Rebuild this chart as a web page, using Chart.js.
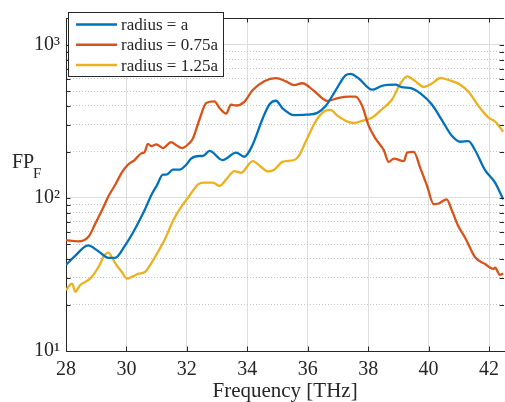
<!DOCTYPE html>
<html>
<head>
<meta charset="utf-8">
<script src="https://cdn.jsdelivr.net/npm/chart.js@4.4.0/dist/chart.umd.min.js"></script>
<style>
html, body { margin: 0; padding: 0; overflow: hidden; background: #fff; }
canvas { display: block; }
</style>
</head>
<body>
<canvas id="fpChart" width="506" height="402"></canvas>
<script>
var seriesNames = ['radius = a', 'radius = 0.75a', 'radius = 1.25a'];
var seriesColors = ['#0072BD', '#D95319', '#EDB120'];

// radius = a
var freqA = [28.0, 28.31, 28.73, 29.06, 29.41, 29.62, 29.95, 30.27, 30.6, 30.83, 31.0, 31.21, 31.32, 31.54, 31.76, 31.98, 32.14, 32.42, 32.53, 32.75, 33.18, 33.63, 33.9, 34.17, 34.5, 34.73, 34.95, 35.16, 35.55, 35.94, 36.32, 36.6, 36.93, 37.25, 37.42, 37.69, 38.13, 38.46, 38.9, 39.11, 39.44, 39.73, 40.11, 40.44, 40.77, 41.05, 41.32, 41.54, 41.87, 42.2, 42.47];
var fpA = [36.5, 42, 49, 45, 40.6, 40.6, 48.8, 62, 83, 105, 120, 142, 142, 153, 153, 165, 181, 188, 188, 203, 177, 198, 186, 221, 327, 408, 432, 387, 348, 350, 360, 400, 507, 632, 647, 603, 510, 541, 550, 531, 520, 483, 408, 323, 255, 233, 235, 205, 152, 126, 98];

// radius = 0.75a
var freqB = [28.0, 28.4, 28.75, 28.97, 29.19, 29.41, 29.63, 29.84, 30.05, 30.27, 30.5, 30.6, 30.71, 30.83, 30.99, 31.21, 31.48, 31.65, 31.85, 32.09, 32.2, 32.42, 32.64, 32.91, 33.08, 33.3, 33.46, 33.63, 33.9, 34.18, 34.56, 34.95, 35.28, 35.55, 35.82, 36.21, 36.65, 37.03, 37.36, 37.58, 37.8, 38.02, 38.24, 38.52, 38.68, 38.85, 39.18, 39.29, 39.51, 39.73, 39.95, 40.17, 40.33, 40.6, 40.77, 40.99, 41.21, 41.54, 41.87, 42.14, 42.2, 42.36, 42.47];
var fpB = [53, 52, 56, 68, 83, 103, 122, 146, 165, 177, 196, 199, 226, 218, 224, 212, 232, 221, 212, 229, 245, 327, 418, 428, 387, 356, 408, 402, 425, 507, 580, 607, 578, 547, 562, 500, 431, 451, 459, 459, 400, 296, 245, 205, 172, 181, 174, 198, 200, 156, 120, 91, 92, 98, 83, 65, 55, 41, 37, 34.4, 35, 31.5, 32];

// radius = 1.25a
var freqC = [28.0, 28.2, 28.31, 28.47, 28.64, 28.8, 28.97, 29.13, 29.24, 29.41, 29.52, 29.68, 29.85, 30.01, 30.18, 30.4, 30.61, 30.84, 31.06, 31.27, 31.55, 31.77, 32.05, 32.38, 32.58, 32.86, 33.08, 33.34, 33.57, 33.79, 34.18, 34.45, 34.67, 34.89, 35.16, 35.55, 35.72, 35.94, 36.27, 36.54, 36.76, 36.98, 37.36, 37.53, 37.8, 38.13, 38.46, 38.79, 39.07, 39.29, 39.56, 39.84, 40.11, 40.39, 40.66, 41.05, 41.32, 41.65, 41.98, 42.2, 42.47];
var fpC = [25, 27.6, 24.4, 27, 28.3, 29.7, 32.8, 37, 41.4, 44, 40.8, 36.2, 32.8, 29.7, 30.5, 32, 32.8, 38, 45, 53.5, 71.5, 85, 101, 123, 126, 126, 120, 135, 150, 146, 174, 160, 149, 153, 172, 177, 190, 235, 318, 367, 376, 345, 313, 309, 319, 335, 380, 440, 560, 624, 580, 531, 560, 608, 590, 550, 494, 400, 335, 316, 271];

var xTicks = [28, 30, 32, 34, 36, 38, 40, 42];
var yMajorTicks = [10, 100, 1000];
var yTickLabels = ['10\u00B9', '10\u00B2', '10\u00B3'];

// all log ticks 1..9 per decade, used for grid and tick marks
var yAllTicks = [];
for (var d = 0; d < yMajorTicks.length - 1; d++) {
    for (var m = 1; m < 10; m++) yAllTicks.push(yMajorTicks[d] * m);
}
yAllTicks.push(yMajorTicks[yMajorTicks.length - 1]);

function isMajor(v) {
    return yMajorTicks.indexOf(v) >= 0;
}

function toPoints(xs, ys) {
    return xs.map(function (x, i) { return { x: x, y: ys[i] }; });
}

var axisColor = '#262626';

var decor = {
    id: 'decor',
    afterDatasetsDraw: function (chart) {
        var ctx = chart.ctx, a = chart.chartArea;
        var xs = chart.scales.x, ys = chart.scales.y;
        var tl = 4.5;
        ctx.save();
        ctx.strokeStyle = axisColor;
        ctx.lineWidth = 1;
        ctx.beginPath();
        ctx.moveTo(a.left, a.top + 0.5);
        ctx.lineTo(a.right, a.top + 0.5);
        xTicks.forEach(function (v) {
            var px = Math.round(xs.getPixelForValue(v)) + 0.5;
            ctx.moveTo(px, a.bottom);
            ctx.lineTo(px, a.bottom - tl);
            ctx.moveTo(px, a.top);
            ctx.lineTo(px, a.top + tl);
        });
        yAllTicks.forEach(function (v) {
            var py = Math.round(ys.getPixelForValue(v)) + 0.5;
            ctx.moveTo(a.left, py);
            ctx.lineTo(a.left + tl, py);
            ctx.moveTo(a.right, py);
            ctx.lineTo(a.right - tl, py);
        });
        ctx.stroke();

        // legend box
        var bx = 68.5, by = 12.5, bw = 155, bh = 64;
        ctx.fillStyle = '#fff';
        ctx.fillRect(bx, by, bw, bh);
        ctx.strokeRect(bx, by, bw, bh);
        ctx.font = '17px "Liberation Serif"';
        ctx.textBaseline = 'middle';
        chart.data.datasets.forEach(function (ds, i) {
            var ly = 24.5 + i * 20.3;
            ctx.strokeStyle = ds.borderColor;
            ctx.lineWidth = 2.5;
            ctx.beginPath();
            ctx.moveTo(76, ly);
            ctx.lineTo(117, ly);
            ctx.stroke();
            ctx.fillStyle = axisColor;
            ctx.fillText(ds.label, 121, ly + 1);
        });

        // y title FP_F
        ctx.fillStyle = axisColor;
        ctx.textBaseline = 'alphabetic';
        ctx.font = '20px "Liberation Serif"';
        ctx.fillText('FP', 12, 168);
        ctx.font = '15px "Liberation Serif"';
        ctx.fillText('F', 33, 178);
        ctx.restore();
    }
};

Chart.defaults.font.family = '"Liberation Serif", "Times New Roman", serif';
Chart.defaults.color = axisColor;

var ctx = document.getElementById('fpChart');
var fpChart = new Chart(ctx, {
    type: 'line',
    data: {
        datasets: [
            { label: seriesNames[0], data: toPoints(freqA, fpA), borderColor: seriesColors[0] },
            { label: seriesNames[1], data: toPoints(freqB, fpB), borderColor: seriesColors[1] },
            { label: seriesNames[2], data: toPoints(freqC, fpC), borderColor: seriesColors[2] }
        ]
    },
    options: {
        responsive: false,
        animation: false,
        elements: {
            line: { borderWidth: 2.3, fill: false, cubicInterpolationMode: 'monotone' },
            point: { radius: 0 }
        },
        layout: { padding: { top: 10, left: 0, right: 0, bottom: 0 } },
        plugins: { legend: { display: false }, tooltip: { enabled: false } },
        scales: {
            x: {
                type: 'linear',
                min: 28,
                max: 42.5,
                afterBuildTicks: function (s) { s.ticks = xTicks.map(function (v) { return { value: v }; }); },
                afterFit: function (s) { s.height = 51; },
                grid: { color: '#dedede', drawTicks: false },
                border: { color: axisColor, width: 1 },
                ticks: { autoSkip: false, maxRotation: 0, padding: 7, font: { size: 20 }, callback: function (v) { return String(v); } },
                title: { display: true, text: 'Frequency [THz]', font: { size: 21, lineHeight: 1 }, padding: { top: 0, bottom: 0 } }
            },
            y: {
                type: 'logarithmic',
                min: 10,
                max: 1500,
                afterBuildTicks: function (s) { s.ticks = yAllTicks.map(function (v) { return { value: v }; }); },
                afterFit: function (s) { s.width = 66; },
                grid: {
                    color: function (c) { return (c.tick && isMajor(c.tick.value)) ? '#dedede' : '#c4c4c4'; },
                    drawTicks: false
                },
                border: {
                    color: axisColor,
                    width: 1,
                    dash: function (c) { return (c.tick && !isMajor(c.tick.value)) ? [1, 2] : []; }
                },
                ticks: {
                    autoSkip: false,
                    padding: 6,
                    font: { size: 20 },
                    callback: function (v) {
                        var i = yMajorTicks.indexOf(v);
                        return i >= 0 ? yTickLabels[i] : '';
                    }
                }
            }
        }
    },
    plugins: [decor]
});
</script>
</body>
</html>
